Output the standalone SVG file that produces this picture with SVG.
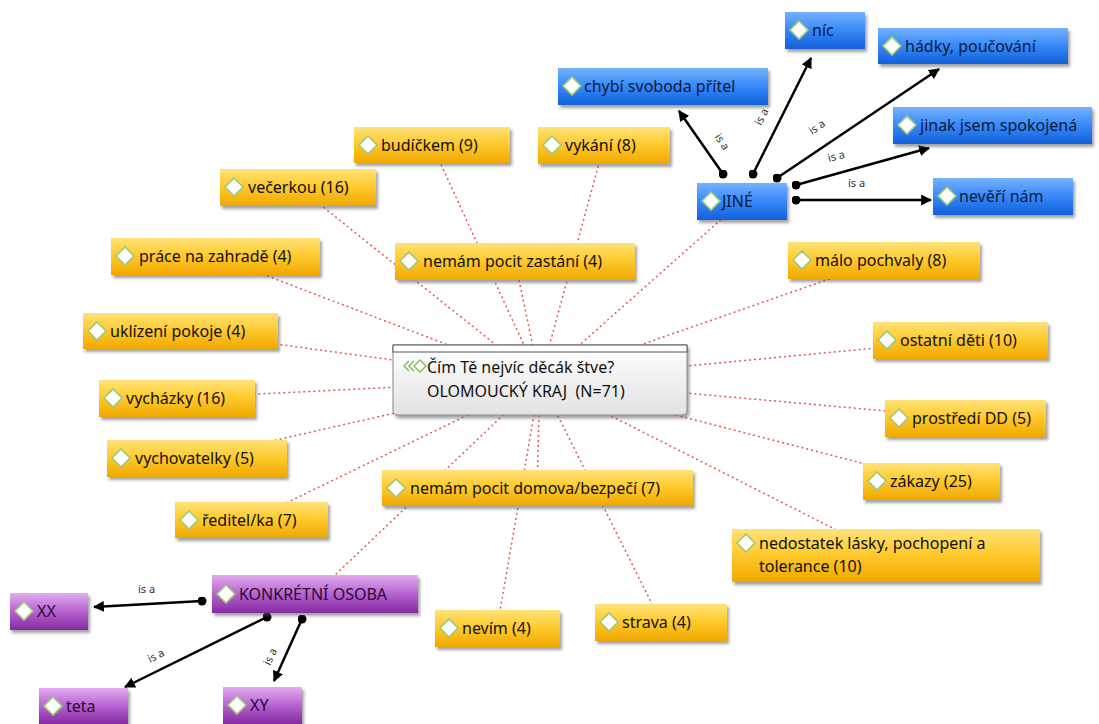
<svg xmlns="http://www.w3.org/2000/svg" width="1099" height="724" viewBox="0 0 1099 724">
<defs>
<linearGradient id="gy" x1="0" y1="0" x2="0" y2="1">
<stop offset="0" stop-color="#FFE27A"/><stop offset="0.45" stop-color="#FFCB30"/><stop offset="1" stop-color="#F0A800"/>
</linearGradient>
<linearGradient id="gb" x1="0" y1="0" x2="0" y2="1">
<stop offset="0" stop-color="#74B2FF"/><stop offset="0.5" stop-color="#3788F8"/><stop offset="1" stop-color="#1260DA"/>
</linearGradient>
<linearGradient id="gp" x1="0" y1="0" x2="0" y2="1">
<stop offset="0" stop-color="#E2ACEF"/><stop offset="0.5" stop-color="#B662D0"/><stop offset="1" stop-color="#8529A2"/>
</linearGradient>
<linearGradient id="gc" x1="0" y1="0" x2="0" y2="1">
<stop offset="0" stop-color="#FFFFFF"/><stop offset="1" stop-color="#E2E2E2"/>
</linearGradient>
<filter id="sh" x="-10%" y="-20%" width="120%" height="160%">
<feDropShadow dx="2" dy="3" stdDeviation="1.5" flood-color="#555" flood-opacity="0.55"/>
</filter>
<marker id="ah" viewBox="0 0 10 10" refX="9" refY="5" markerWidth="4.4" markerHeight="4.4" orient="auto" markerUnits="strokeWidth">
<path d="M0,0 L10,5 L0,10 z" fill="#000"/>
</marker>
<marker id="dot" viewBox="0 0 10 10" refX="5" refY="5" markerWidth="3.6" markerHeight="3.6" markerUnits="strokeWidth">
<circle cx="5" cy="5" r="5" fill="#000"/>
</marker>
<path id="dia" d="M0,-9 L9,0 L0,9 L-9,0 z"/>
</defs>
<style>
.y{fill:url(#gy);filter:url(#sh)}
.b{fill:url(#gb);filter:url(#sh)}
.p{fill:url(#gp);filter:url(#sh)}
.t{font-family:"Noto Sans","Open Sans",sans-serif;font-size:16px;fill:#111}
.tb{font-family:"Noto Sans","Open Sans",sans-serif;font-size:16px;fill:#0b1a3c}
.tp{font-family:"Noto Sans","Open Sans",sans-serif;font-size:16px;fill:#2a0a33}
.d{fill:#fff;stroke:#9CCB74;stroke-width:1.6}
.rl{stroke:#E05A5A;stroke-width:1.5;stroke-dasharray:2 3;fill:none}
.al{stroke:#000;stroke-width:2.5;fill:none;marker-start:url(#dot);marker-end:url(#ah)}
.isa{font-family:"Noto Sans","Open Sans",sans-serif;font-size:11px;fill:#333}
</style>
<rect width="1099" height="724" fill="#fff"/>
<g id="connectors">
<line class="rl" x1="540" y1="380" x2="432" y2="145"/>
<line class="rl" x1="540" y1="380" x2="604" y2="145"/>
<line class="rl" x1="540" y1="380" x2="515" y2="261"/>
<line class="rl" x1="540" y1="380" x2="298" y2="187"/>
<line class="rl" x1="540" y1="380" x2="215" y2="256"/>
<line class="rl" x1="540" y1="380" x2="180" y2="331"/>
<line class="rl" x1="540" y1="380" x2="177" y2="398"/>
<line class="rl" x1="540" y1="380" x2="197" y2="458"/>
<line class="rl" x1="540" y1="380" x2="251" y2="520"/>
<line class="rl" x1="540" y1="380" x2="537" y2="488"/>
<line class="rl" x1="540" y1="380" x2="497" y2="628"/>
<line class="rl" x1="540" y1="380" x2="661" y2="622"/>
<line class="rl" x1="540" y1="380" x2="886" y2="555"/>
<line class="rl" x1="540" y1="380" x2="931" y2="481"/>
<line class="rl" x1="540" y1="380" x2="965" y2="418"/>
<line class="rl" x1="540" y1="380" x2="960" y2="340"/>
<line class="rl" x1="540" y1="380" x2="884" y2="260"/>
<line class="rl" x1="540" y1="380" x2="742" y2="201"/>
<line class="rl" x1="540" y1="380" x2="315" y2="594"/>
<line class="al" x1="723" y1="174" x2="679" y2="111"/>
<line class="al" x1="753" y1="174" x2="811" y2="58"/>
<line class="al" x1="777" y1="178" x2="939" y2="69"/>
<line class="al" x1="796" y1="185" x2="929" y2="148"/>
<line class="al" x1="796" y1="200" x2="931" y2="200"/>
<line class="al" x1="202" y1="601" x2="94" y2="607"/>
<line class="al" x1="267" y1="617" x2="125" y2="687"/>
<line class="al" x1="302" y1="619" x2="274" y2="681"/>
<text class="isa" transform="translate(714,137) rotate(55)">is a</text>
<text class="isa" transform="translate(761,126) rotate(-63)">is a</text>
<text class="isa" transform="translate(812,135) rotate(-34)">is a</text>
<text class="isa" transform="translate(829,162) rotate(-15)">is a</text>
<text class="isa" x="848" y="187">is a</text>
<text class="isa" x="138" y="593">is a</text>
<text class="isa" transform="translate(150,663) rotate(-27)">is a</text>
<text class="isa" transform="translate(270,666) rotate(-65)">is a</text>
</g>
<g id="n-budickem"><rect class="y" x="354" y="127" width="156" height="36"/><use href="#dia" class="d" x="368" y="145"/><text class="t" x="381" y="151">budíčkem (9)</text></g>
<g id="n-vykani"><rect class="y" x="538" y="127" width="132" height="37"/><use href="#dia" class="d" x="552" y="145"/><text class="t" x="565" y="151">vykání (8)</text></g>
<g id="n-vecerkou"><rect class="y" x="220" y="169" width="156" height="37"/><use href="#dia" class="d" x="234" y="187"/><text class="t" x="248" y="193">večerkou (16)</text></g>
<g id="n-zastani"><rect class="y" x="395" y="243" width="240" height="37"/><use href="#dia" class="d" x="409" y="261"/><text class="t" x="423" y="267">nemám pocit zastání (4)</text></g>
<g id="n-prace"><rect class="y" x="111" y="238" width="209" height="37"/><use href="#dia" class="d" x="125" y="256"/><text class="t" x="139" y="262">práce na zahradě (4)</text></g>
<g id="n-uklizeni"><rect class="y" x="83" y="313" width="195" height="36"/><use href="#dia" class="d" x="97" y="331"/><text class="t" x="110" y="337">uklízení pokoje (4)</text></g>
<g id="n-vychazky"><rect class="y" x="99" y="380" width="156" height="37"/><use href="#dia" class="d" x="113" y="398"/><text class="t" x="126" y="404">vycházky (16)</text></g>
<g id="n-vychovatelky"><rect class="y" x="107" y="440" width="180" height="37"/><use href="#dia" class="d" x="121" y="458"/><text class="t" x="135" y="464">vychovatelky (5)</text></g>
<g id="n-reditel"><rect class="y" x="175" y="502" width="153" height="36"/><use href="#dia" class="d" x="189" y="520"/><text class="t" x="202" y="526">ředitel/ka (7)</text></g>
<g id="n-domova"><rect class="y" x="382" y="470" width="311" height="36"/><use href="#dia" class="d" x="396" y="488"/><text class="t" x="410" y="494">nemám pocit domova/bezpečí (7)</text></g>
<g id="n-nevim"><rect class="y" x="435" y="610" width="125" height="37"/><use href="#dia" class="d" x="449" y="628"/><text class="t" x="462" y="634">nevím (4)</text></g>
<g id="n-strava"><rect class="y" x="595" y="604" width="132" height="37"/><use href="#dia" class="d" x="609" y="622"/><text class="t" x="622" y="628">strava (4)</text></g>
<g id="n-nedostatek"><rect class="y" x="732" y="529" width="308" height="53"/><use href="#dia" class="d" x="746" y="543"/><text class="t" x="759" y="549">nedostatek lásky, pochopení a</text><text class="t" x="759" y="572">tolerance (10)</text></g>
<g id="n-zakazy"><rect class="y" x="863" y="463" width="137" height="37"/><use href="#dia" class="d" x="877" y="481"/><text class="t" x="890" y="487">zákazy (25)</text></g>
<g id="n-prostredi"><rect class="y" x="885" y="400" width="161" height="37"/><use href="#dia" class="d" x="899" y="418"/><text class="t" x="912" y="424">prostředí DD (5)</text></g>
<g id="n-ostatni"><rect class="y" x="873" y="322" width="175" height="37"/><use href="#dia" class="d" x="887" y="340"/><text class="t" x="900" y="346">ostatní děti (10)</text></g>
<g id="n-malo"><rect class="y" x="788" y="242" width="192" height="37"/><use href="#dia" class="d" x="802" y="260"/><text class="t" x="815" y="266">málo pochvaly (8)</text></g>
<g id="n-jine"><rect class="b" x="697" y="183" width="90" height="37"/><use href="#dia" class="d" x="711" y="201"/><text class="tb" x="722" y="207">JINÉ</text></g>
<g id="n-chybi"><rect class="b" x="558" y="68" width="210" height="37"/><use href="#dia" class="d" x="572" y="86"/><text class="tb" x="584" y="92">chybí svoboda přítel</text></g>
<g id="n-nic"><rect class="b" x="785" y="12" width="80" height="37"/><use href="#dia" class="d" x="799" y="30"/><text class="tb" x="812" y="36">níc</text></g>
<g id="n-hadky"><rect class="b" x="878" y="28" width="190" height="36"/><use href="#dia" class="d" x="892" y="46"/><text class="tb" x="905" y="52">hádky, poučování</text></g>
<g id="n-jinak"><rect class="b" x="893" y="107" width="199" height="37"/><use href="#dia" class="d" x="907" y="125"/><text class="tb" x="920" y="131">jinak jsem spokojená</text></g>
<g id="n-neveri"><rect class="b" x="933" y="178" width="140" height="37"/><use href="#dia" class="d" x="947" y="196"/><text class="tb" x="959" y="202">nevěří nám</text></g>
<g id="n-konkretni"><rect class="p" x="212" y="575" width="206" height="38"/><use href="#dia" class="d" x="226" y="594"/><text class="tp" x="239" y="600">KONKRÉTNÍ OSOBA</text></g>
<g id="n-xx"><rect class="p" x="10" y="593" width="78" height="37"/><use href="#dia" class="d" x="24" y="611"/><text class="tp" x="37" y="617">XX</text></g>
<g id="n-teta"><rect class="p" x="39" y="688" width="89" height="36"/><use href="#dia" class="d" x="53" y="706"/><text class="tp" x="66" y="712">teta</text></g>
<g id="n-xy"><rect class="p" x="223" y="687" width="79" height="37"/><use href="#dia" class="d" x="237" y="705"/><text class="tp" x="250" y="711">XY</text></g>
<g id="n-center">
<path d="M393,345 H687 V410 Q687,415 682,415 H398 Q393,415 393,410 Z" fill="url(#gc)" stroke="#8a8a8a" stroke-width="1" filter="url(#sh)"/>
<rect x="393" y="345" width="294" height="7" fill="#fff" stroke="#555" stroke-width="1"/>
<path d="M409,361 L404,366 L409,371 M414,361 L409,366 L414,371" fill="none" stroke="#7DBE55" stroke-width="1.4"/>
<path d="M420,360 L426,366 L420,372 L414,366 z" fill="#fff" stroke="#7DBE55" stroke-width="1.4"/>
<text class="t" x="427" y="373">Čím Tě nejvíc děcák štve?</text>
<text class="t" x="427" y="397" xml:space="preserve" style="white-space:pre">OLOMOUCKÝ KRAJ  (N=71)</text>
</g>
</svg>
